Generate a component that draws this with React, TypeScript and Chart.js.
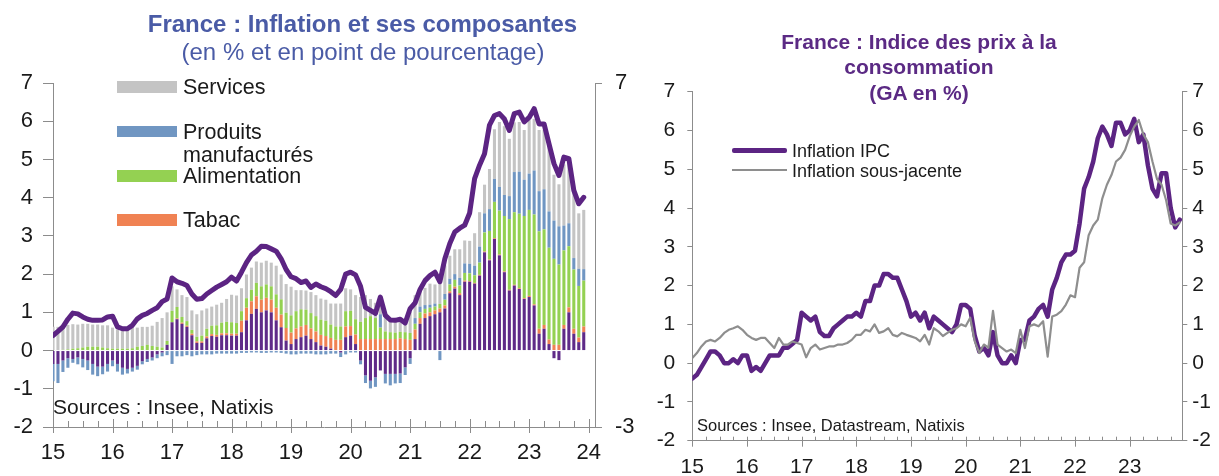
import React, { useEffect, useRef } from 'react';
import { Chart, registerables } from 'chart.js';

Chart.register(...registerables);

// ---------------- DATA ----------------
// Monthly observations, Jan 2015 -> Dec 2023 (index 0 = Jan 2015)
const YEAR_LABELS = ['15', '16', '17', '18', '19', '20', '21', '22', '23', '24'];

// Left chart: total inflation (line) and contributions (pp)
const TOTAL_LEFT = [
  0.39, 0.5, 0.62, 0.82, 0.98, 0.96, 0.88, 0.82, 0.79, 0.79, 0.8, 0.88,
  0.9, 0.62, 0.57, 0.57, 0.66, 0.83, 0.92, 0.97, 1.05, 1.12, 1.28, 1.35,
  1.9, 1.8, 1.76, 1.7, 1.48, 1.34, 1.36, 1.48, 1.57, 1.66, 1.73, 1.8,
  1.92, 1.82, 2.05, 2.3, 2.5, 2.6, 2.73, 2.72, 2.66, 2.6, 2.4, 2.12,
  1.93, 1.88, 1.78, 1.82, 1.65, 1.74, 1.67, 1.62, 1.54, 1.44, 1.6, 2.0,
  2.05, 1.98, 1.68, 1.13, 1.05, 0.97, 1.4, 0.92, 0.8, 0.79, 0.82, 0.72,
  1.1, 1.25, 1.6, 1.83, 1.96, 2.05, 1.8, 2.4, 2.8, 3.1, 3.2, 3.28,
  3.6, 4.5, 4.85, 5.15, 5.9, 6.15, 6.2, 6.06, 5.76, 6.2, 6.24, 5.98,
  6.1, 6.33, 5.93, 5.93, 5.41, 4.89, 4.58, 5.06, 5.02, 4.19, 3.84, 4.01,
];

const ENERGIE = [
  -0.35, -0.35, -0.26, -0.2, -0.22, -0.18, -0.22, -0.26, -0.35, -0.42, -0.42, -0.35,
  -0.26, -0.35, -0.45, -0.48, -0.45, -0.4, -0.28, -0.22, -0.18, -0.1, -0.05, 0.15,
  0.74, 0.82, 0.7, 0.62, 0.4, 0.2, 0.2, 0.32, 0.38, 0.36, 0.4, 0.4,
  0.39, 0.39, 0.48, 0.79, 0.96, 1.09, 1.0, 1.05, 1.0, 0.79, 0.61, 0.26,
  0.17, 0.3, 0.35, 0.39, 0.3, 0.22, 0.13, 0.1, 0.05, 0.0, -0.05, 0.35,
  0.39, 0.17, -0.26, -0.65, -0.79, -0.7, -0.52, -0.61, -0.61, -0.61, -0.6, -0.44,
  -0.2, 0.3, 0.7, 0.85, 0.9, 0.95, 1.0, 1.1, 1.5, 1.62, 1.45, 1.8,
  1.8, 1.75, 1.96, 2.57, 2.36, 2.92, 2.49, 2.05, 1.57, 1.7, 1.61, 1.35,
  1.4, 1.18, 0.44, 0.57, 0.17, -0.2, -0.25, 0.57, 1.0, 0.44, 0.22, 0.48,
];

const TABAC = [
  0, 0, 0, 0, 0, 0, 0, 0, 0, 0, 0, 0,
  0, 0, 0, 0, 0, 0, 0, 0, 0, 0, 0, 0,
  0, 0.02, 0.03, 0.03, 0.04, 0.04, 0.04, 0.05, 0.05, 0.05, 0.05, 0.05,
  0.05, 0.05, 0.3, 0.33, 0.33, 0.33, 0.33, 0.33, 0.33, 0.33, 0.33, 0.33,
  0.3, 0.28, 0.28, 0.28, 0.28, 0.28, 0.28, 0.28, 0.28, 0.28, 0.28, 0.28,
  0.25, 0.25, 0.3, 0.3, 0.3, 0.3, 0.3, 0.3, 0.3, 0.3, 0.32, 0.3,
  0.28, 0.25, 0.15, 0.12, 0.1, 0.1, 0.1, 0.08, 0.05, 0.05, 0.05, 0.03,
  0.02, 0.02, 0.02, 0.02, 0.02, 0.02, 0.02, 0.02, 0.02, 0.02, 0.02, 0.02,
  0.03, 0.03, 0.13, 0.1, 0.12, 0.15, 0.15, 0.1, 0.13, 0.13, 0.12, 0.15,
];

const ALIMENTATION = [
  0, 0, 0.02, 0.03, 0.05, 0.06, 0.08, 0.1, 0.1, 0.1, 0.08, 0.06,
  0.05, 0.05, 0.05, 0.05, 0.06, 0.1, 0.12, 0.15, 0.12, 0.1, 0.08, 0.1,
  0.3, 0.3, 0.15, 0.12, 0.1, 0.12, 0.15, 0.2, 0.22, 0.25, 0.28, 0.3,
  0.3, 0.28, 0.25, 0.25, 0.3, 0.35, 0.35, 0.35, 0.35, 0.35, 0.4, 0.4,
  0.45, 0.45, 0.45, 0.4, 0.4, 0.4, 0.4, 0.4, 0.35, 0.35, 0.35, 0.4,
  0.4, 0.4, 0.45, 0.55, 0.6, 0.55, 0.3, 0.2, 0.18, 0.17, 0.17, 0.18,
  0.18, 0.15, 0.15, 0.12, 0.12, 0.1, 0.12, 0.15, 0.18, 0.18, 0.2, 0.2,
  0.2, 0.2, 0.32, 0.5, 0.75, 0.95, 1.15, 1.45, 1.85, 1.9, 1.95, 2.15,
  2.25, 2.35, 2.55, 2.5, 2.4, 2.25, 2.1, 1.95, 1.6, 1.55, 1.35, 1.2,
];

const MANUFACTURES = [
  -0.45, -0.5, -0.3, -0.25, -0.1, -0.18, -0.22, -0.25, -0.28, -0.25, -0.2, -0.2,
  -0.15, -0.2, -0.18, -0.12, -0.1, -0.1, -0.08, -0.08, -0.08, -0.1, -0.1, -0.12,
  -0.35, -0.15, -0.15, -0.12, -0.15, -0.12, -0.1, -0.1, -0.1, -0.08, -0.08, -0.08,
  -0.08, -0.08, -0.06, -0.06, -0.05, -0.05, -0.06, -0.06, -0.05, -0.05, -0.06, -0.08,
  -0.1, -0.1, -0.08, -0.08, -0.08, -0.1, -0.1, -0.1, -0.08, -0.08, -0.12, -0.1,
  -0.05, -0.05, -0.1, -0.2, -0.2, -0.25, 0.35, -0.25, -0.3, -0.25, -0.25, -0.2,
  -0.15, 0.15, 0.15, 0.1, 0.08, 0.08, -0.25, 0.15, 0.15, 0.15, 0.2, 0.25,
  0.25, 0.25, 0.42, 0.5, 0.57, 0.6, 0.62, 0.55, 0.6, 1.05, 1.1, 0.95,
  0.95, 1.15, 1.05, 1.05, 0.95, 1.0, 1.0, 0.65, 0.6, 0.3, 0.45, 0.3,
];

const SERVICES = [
  0.62, 0.62, 0.65, 0.64, 0.64, 0.62, 0.62, 0.6, 0.58, 0.58, 0.58, 0.6,
  0.55, 0.5, 0.53, 0.55, 0.54, 0.5, 0.5, 0.47, 0.53, 0.65, 0.77, 0.75,
  0.64, 0.46, 0.57, 0.63, 0.51, 0.59, 0.66, 0.53, 0.5, 0.54, 0.52, 0.6,
  0.72, 0.72, 0.6, 0.62, 0.58, 0.56, 0.62, 0.62, 0.62, 0.75, 0.65, 0.75,
  0.75, 0.55, 0.5, 0.5, 0.55, 0.55, 0.55, 0.55, 0.55, 0.6, 0.6, 0.6,
  0.56, 0.63, 0.65, 0.6, 0.45, 0.4, 0.4, 0.35, 0.35, 0.35, 0.35, 0.3,
  0.55, 0.6, 0.5, 0.45, 0.55, 0.5, 0.6, 0.75, 0.6, 0.65, 0.75, 0.6,
  0.6, 0.85, 0.9, 0.75, 1.05, 1.3, 1.7, 1.8, 1.5, 1.3, 1.3, 1.3,
  1.4, 1.35, 1.6, 1.55, 1.8, 1.2, 1.1, 1.6, 1.6, 1.75, 1.45, 1.55,
];

// Right chart: CPI (IPC) and core inflation, y/y %
const IPC = [
  -0.4, -0.3, -0.1, 0.1, 0.3, 0.3, 0.2, 0.0, 0.0, 0.1, 0.0, 0.2,
  0.2, -0.2, -0.1, -0.2, 0.0, 0.2, 0.2, 0.2, 0.4, 0.4, 0.5, 0.6,
  1.3, 1.2, 1.1, 1.2, 0.8, 0.7, 0.7, 0.9, 1.0, 1.1, 1.2, 1.2,
  1.3, 1.2, 1.6, 1.6, 2.0, 2.0, 2.3, 2.3, 2.2, 2.2, 1.9, 1.6,
  1.2, 1.3, 1.1, 1.3, 0.9, 1.2, 1.1, 1.0, 0.9, 0.8, 1.0, 1.5,
  1.5, 1.4, 0.7, 0.3, 0.4, 0.2, 0.8, 0.2, 0.0, 0.0, 0.2, 0.0,
  0.6, 0.6, 1.1, 1.2, 1.4, 1.5, 1.2, 1.9, 2.2, 2.6, 2.8, 2.8,
  2.9, 3.6, 4.5, 4.8, 5.2, 5.8, 6.1, 5.9, 5.6, 6.2, 6.2, 5.9,
  6.0, 6.3, 5.7, 5.9, 5.1, 4.5, 4.3, 4.9, 4.9, 4.0, 3.5, 3.7,
];

const SOUS_JACENTE = [
  0.13, 0.26, 0.43, 0.56, 0.6, 0.56, 0.65, 0.78, 0.86, 0.9, 0.95, 0.86,
  0.73, 0.65, 0.6, 0.65, 0.65, 0.52, 0.39, 0.65, 0.48, 0.48, 0.56, 0.52,
  0.48, 0.15, 0.39, 0.48, 0.35, 0.39, 0.43, 0.43, 0.48, 0.48, 0.52, 0.6,
  0.73, 0.73, 0.86, 0.82, 1.0, 0.78, 0.82, 0.9, 0.73, 0.69, 0.78, 0.73,
  0.69, 0.65, 0.56, 0.73, 0.48, 0.9, 0.82, 0.7, 0.78, 0.86, 0.9, 1.0,
  0.95, 1.17, 0.56, 0.26, 0.48, 0.4, 1.35, 0.48, 0.39, 0.3, 0.35, 0.26,
  0.86, 0.39, 0.95, 1.0, 0.95, 1.08, 0.17, 1.2, 1.25, 1.34, 1.51, 1.75,
  1.7, 2.46, 2.6, 3.3, 3.55, 3.7, 4.25, 4.6, 4.85, 5.2, 5.3, 5.5,
  5.85, 6.1, 6.27, 5.9, 5.7, 5.2, 4.75, 4.6, 4.2, 3.6, 3.55, 3.63,
];

// ---------------- STYLE ----------------
const FONT = "'Liberation Sans', Arial, Helvetica, sans-serif";
const AXIS = '#8c8c8c';
const TXT = '#1a1a1a';
const LEFT_TITLE = '#4a5ba6';
const RIGHT_TITLE = '#5b2a84';
const PURPLE = '#5c2483';

const BAR_SERIES = [
  { label: 'Énergie', values: ENERGIE, color: '#5f2a88', legend: false },
  { label: 'Tabac', values: TABAC, color: '#f08253', legend: true },
  { label: 'Alimentation', values: ALIMENTATION, color: '#94d152', legend: true },
  { label: 'Produits manufacturés', values: MANUFACTURES, color: '#7096c2', legend: true },
  { label: 'Services', values: SERVICES, color: '#c4c4c4', legend: true },
];

const toXY = (arr: number[]) => arr.map((v, m) => ({ x: m, y: v }));

// draws year (crossing) and quarter (inner) tick marks on the x axis
const axisTicksPlugin = {
  id: 'axisTicks',
  afterDatasetsDraw(chart: any, _args: any, opts: any) {
    const x = chart.scales.x;
    const ctx = chart.ctx;
    const yb = chart.chartArea.bottom;
    ctx.save();
    ctx.strokeStyle = AXIS;
    ctx.lineWidth = 1;
    for (let v = 0; v <= x.max + 1e-6; v += 3) {
      const px = Math.round(x.getPixelForValue(v)) + 0.5;
      ctx.beginPath();
      if (v % 12 === 0) {
        ctx.moveTo(px, yb - opts.majorUp);
        ctx.lineTo(px, yb + opts.majorDown);
      } else {
        ctx.moveTo(px, yb - opts.minorUp);
        ctx.lineTo(px, yb);
      }
      ctx.stroke();
    }
    ctx.restore();
  },
};

const yearTicks = (max: number) => (scale: any) => {
  const t = [];
  for (let v = 0; v <= max; v += 12) t.push({ value: v });
  scale.ticks = t;
};

function Txt(props: { x: number; cy: number; size: number; text: string; bold?: boolean; color?: string; center?: boolean }) {
  const lh = Math.round(props.size * 1.2);
  const style: any = {
    position: 'absolute',
    top: props.cy - lh / 2,
    lineHeight: lh + 'px',
    height: lh,
    fontSize: props.size,
    fontWeight: props.bold ? 700 : 400,
    color: props.color || TXT,
    whiteSpace: 'nowrap',
    fontFamily: FONT,
  };
  if (props.center) {
    style.left = props.x - 300;
    style.width = 600;
    style.textAlign = 'center';
  } else {
    style.left = props.x;
  }
  return <div style={style}>{props.text}</div>;
}

export default function App() {
  const leftRef = useRef<HTMLCanvasElement>(null);
  const rightRef = useRef<HTMLCanvasElement>(null);

  useEffect(() => {
    const tickFontL = { family: FONT, size: 22 };
    const left = new Chart(leftRef.current as HTMLCanvasElement, {
      type: 'bar',
      data: {
        datasets: [
          ...BAR_SERIES.map((s) => ({
            type: 'bar' as const,
            label: s.label,
            data: toXY(s.values),
            backgroundColor: s.color,
            borderWidth: 0,
            categoryPercentage: 1,
            barPercentage: 0.62,
            order: 1,
          })),
          {
            type: 'line' as const,
            label: 'Inflation',
            data: toXY(TOTAL_LEFT),
            borderColor: PURPLE,
            borderWidth: 5,
            pointRadius: 0,
            tension: 0,
            borderJoinStyle: 'round',
            borderCapStyle: 'round',
            stack: 'total',
            order: 0,
          },
        ],
      } as any,
      options: {
        responsive: false,
        animation: false,
        devicePixelRatio: 1,
        layout: { padding: { top: 83, left: 0, right: 0, bottom: 0 } },
        plugins: {
          legend: { display: false },
          tooltip: { enabled: false },
          axisTicks: { majorUp: 8, majorDown: 6, minorUp: 6 },
        } as any,
        scales: {
          x: {
            type: 'linear',
            min: 0,
            max: 109.27,
            offset: false,
            stacked: true,
            grid: { display: false, drawTicks: false, offset: false },
            border: { color: AXIS, width: 1 },
            afterBuildTicks: yearTicks(109.27),
            ticks: {
              autoSkip: false,
              maxRotation: 0,
              padding: 13,
              color: TXT,
              font: tickFontL,
              callback: (v: any) => YEAR_LABELS[Math.round(Number(v) / 12)],
            },
            afterFit: (s: any) => { s.height = 49; },
          },
          y: {
            position: 'left',
            stacked: true,
            min: -2,
            max: 7,
            grid: { drawOnChartArea: false, tickLength: 10, color: AXIS },
            border: { color: AXIS, width: 1 },
            ticks: { stepSize: 1, padding: 10, color: TXT, font: tickFontL },
            afterFit: (s: any) => { s.width = 53; },
          },
          y2: {
            position: 'right',
            min: -3,
            max: 7,
            afterBuildTicks: (s: any) => { s.ticks = [{ value: -3 }, { value: 7 }]; },
            grid: { drawOnChartArea: false, tickLength: 7, color: AXIS },
            border: { color: AXIS, width: 1 },
            ticks: { padding: 13, color: TXT, font: tickFontL },
            afterFit: (s: any) => { s.width = 45; },
          },
        },
      } as any,
      plugins: [axisTicksPlugin],
    });

    const tickFontR = { family: FONT, size: 21 };
    const right = new Chart(rightRef.current as HTMLCanvasElement, {
      type: 'line',
      data: {
        datasets: [
          {
            label: 'Inflation IPC',
            data: toXY(IPC),
            borderColor: PURPLE,
            borderWidth: 4.5,
            order: 1,
          },
          {
            label: 'Inflation sous-jacente',
            data: toXY(SOUS_JACENTE),
            borderColor: '#8e8e8e',
            borderWidth: 2.2,
            order: 0,
          },
        ],
      } as any,
      options: {
        responsive: false,
        animation: false,
        devicePixelRatio: 1,
        elements: {
          point: { radius: 0 },
          line: { tension: 0, borderJoinStyle: 'round', borderCapStyle: 'round' },
        },
        layout: { padding: { top: 91.7, left: 0, right: 0, bottom: 0 } },
        plugins: {
          legend: { display: false },
          tooltip: { enabled: false },
          axisTicks: { majorUp: 4, majorDown: 6, minorUp: 4 },
        } as any,
        scales: {
          x: {
            type: 'linear',
            min: 0,
            max: 107.55,
            offset: false,
            grid: { display: false, drawTicks: false },
            border: { color: AXIS, width: 1 },
            afterBuildTicks: yearTicks(107.55),
            ticks: {
              autoSkip: false,
              maxRotation: 0,
              padding: 13.5,
              color: TXT,
              font: tickFontR,
              callback: (v: any) => YEAR_LABELS[Math.round(Number(v) / 12)],
            },
            afterFit: (s: any) => { s.height = 35.3; },
          },
          y: {
            position: 'left',
            min: -2,
            max: 7,
            grid: { drawOnChartArea: false, tickLength: 5, color: AXIS },
            border: { color: AXIS, width: 1 },
            ticks: { stepSize: 1, padding: 12, color: TXT, font: tickFontR },
            afterFit: (s: any) => { s.width = 52.3; },
          },
          y2: {
            position: 'right',
            min: -2,
            max: 7,
            grid: { drawOnChartArea: false, tickLength: 5, color: AXIS },
            border: { color: AXIS, width: 1 },
            ticks: { stepSize: 1, padding: 5, color: TXT, font: tickFontR },
            afterFit: (s: any) => { s.width = 36.7; },
          },
        },
      } as any,
      plugins: [axisTicksPlugin],
    });

    return () => {
      left.destroy();
      right.destroy();
    };
  }, []);

  const legendLeft = BAR_SERIES.filter((s) => s.legend).reverse();
  // vertical centres of the four legend rows (Services, Produits, Alimentation, Tabac)
  const legendRows = [87, 131.5, 176, 220];

  return (
    <div style={{ position: 'fixed', left: 0, top: 0, width: 1219, height: 476, background: '#fff', overflow: 'hidden', fontFamily: FONT }}>
      <canvas ref={leftRef} width={640} height={476} style={{ position: 'absolute', left: 0, top: 0, width: 640, height: 476 }} />
      <canvas ref={rightRef} width={579} height={476} style={{ position: 'absolute', left: 640, top: 0, width: 579, height: 476 }} />

      {/* Left titles */}
      <Txt x={362.5} cy={23} size={24} bold color={LEFT_TITLE} text="France : Inflation et ses composantes" center />
      <Txt x={363} cy={51} size={24} color={LEFT_TITLE} text="(en % et en point de pourcentage)" center />

      {/* Left legend */}
      {legendLeft.map((s, i) => (
        <React.Fragment key={s.label}>
          <div style={{ position: 'absolute', left: 117, top: legendRows[i] - 5.8, width: 60, height: 11.6, background: s.color }} />
          {s.label === 'Produits manufacturés' ? (
            <>
              <Txt x={183} cy={legendRows[i]} size={21.5} text="Produits" />
              <Txt x={183} cy={legendRows[i] + 23} size={21.5} text="manufacturés" />
            </>
          ) : (
            <Txt x={183} cy={legendRows[i]} size={21.5} text={s.label} />
          )}
        </React.Fragment>
      ))}

      <Txt x={53} cy={406.5} size={21} text="Sources : Insee, Natixis" />

      {/* Right titles */}
      <Txt x={919} cy={41} size={21} bold color={RIGHT_TITLE} text="France : Indice des prix à la" center />
      <Txt x={919} cy={66} size={21} bold color={RIGHT_TITLE} text="consommation" center />
      <Txt x={919} cy={92} size={21} bold color={RIGHT_TITLE} text="(GA en %)" center />

      {/* Right legend */}
      <div style={{ position: 'absolute', left: 732, top: 148, width: 55, height: 4.5, background: PURPLE, borderRadius: 2 }} />
      <Txt x={792} cy={151} size={18} text="Inflation IPC" />
      <div style={{ position: 'absolute', left: 732, top: 169, width: 55, height: 2.2, background: '#8e8e8e' }} />
      <Txt x={792} cy={170.5} size={18} text="Inflation sous-jacente" />

      <Txt x={697} cy={425} size={16.5} text="Sources : Insee, Datastream, Natixis" />
    </div>
  );
}
